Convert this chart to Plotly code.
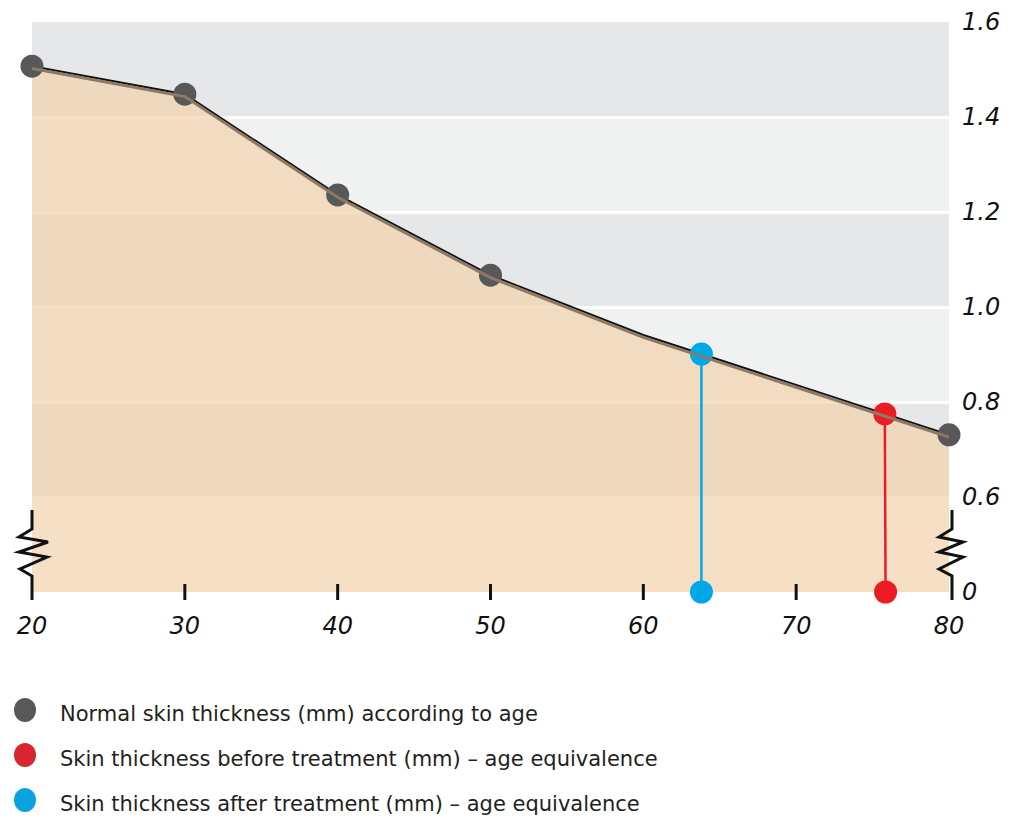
import plotly.graph_objects as go

# ---- data ----
ages = [20, 30, 40, 50, 60, 80]
thickness = [1.507, 1.448, 1.236, 1.067, 0.941, 0.731]
marker_ages = [20, 30, 40, 50, 80]
marker_thickness = [1.507, 1.448, 1.236, 1.067, 0.731]

before_age = [75.8, 75.85]
before_thickness = [0.775, 0.0]
after_age = [63.8, 63.8]
after_thickness = [0.901, 0.0]

x_ticks = [20, 30, 40, 50, 60, 70, 80]
y_tick_values = [0.0, 0.6, 0.8, 1.0, 1.2, 1.4, 1.6]
y_tick_labels = ["0", "0.6", "0.8", "1.0", "1.2", "1.4", "1.6"]

legend_labels = [
    "Normal skin thickness (mm) according to age",
    "Skin thickness before treatment (mm) \u2013 age equivalence",
    "Skin thickness after treatment (mm) \u2013 age equivalence",
]

GRAY = "#58585a"
RED = "#ed1c24"
BLUE = "#00a8e8"
FONT = "DejaVu Sans"

X_RANGE = [20, 80]
Y_RANGE = [0.4, 1.6]

# broken axis: values below 0.6 are compressed so that 0 sits one step below 0.6
def pos(v):
    return v if v >= 0.6 else 0.4 + v * (0.2 / 0.6)

def xpaper(x):
    return (x - X_RANGE[0]) / (X_RANGE[1] - X_RANGE[0])

y_pos = [pos(v) for v in thickness]
fig = go.Figure()

# area fill
fig.add_trace(go.Scatter(x=ages, y=y_pos, mode="lines", line=dict(width=0),
                         fill="tozeroy", fillcolor="rgba(242,209,170,0.68)",
                         hoverinfo="skip", showlegend=False))
# shadow line (drawn on a slightly shifted overlay axis)
fig.add_trace(go.Scatter(x=ages, y=y_pos, mode="lines", yaxis="y2",
                         line=dict(color="#8c7a66", width=3),
                         hoverinfo="skip", showlegend=False))
# main line
fig.add_trace(go.Scatter(x=ages, y=y_pos, mode="lines",
                         line=dict(color="#111111", width=2),
                         showlegend=False))
# vertical age-equivalence lines
fig.add_trace(go.Scatter(x=after_age, y=[pos(v) for v in after_thickness], mode="lines+markers",
                         line=dict(color=BLUE, width=2.5),
                         marker=dict(color=BLUE, size=23), cliponaxis=False,
                         showlegend=False))
fig.add_trace(go.Scatter(x=before_age, y=[pos(v) for v in before_thickness], mode="lines+markers",
                         line=dict(color=RED, width=2.5),
                         marker=dict(color=RED, size=23), cliponaxis=False,
                         showlegend=False))
# normal markers
fig.add_trace(go.Scatter(x=marker_ages, y=[pos(v) for v in marker_thickness], mode="markers",
                         marker=dict(color=GRAY, size=23), cliponaxis=False,
                         showlegend=False))

shapes = []
# background bands
band_edges = [0.4, 0.6, 0.8, 1.0, 1.2, 1.4, 1.6]
band_colors = ["#ffffff", "#e6e7e9", "#f0f1f1", "#e6e7e9", "#f0f1f1", "#e6e7e9"]
for i, c in enumerate(band_colors):
    shapes.append(dict(type="rect", xref="x", yref="y", x0=20, x1=80,
                       y0=band_edges[i], y1=band_edges[i + 1],
                       fillcolor=c, line=dict(width=0), layer="below"))

# x tick marks (paper-referenced so they are not clipped)
for t in x_ticks[1:-1]:
    shapes.append(dict(type="line", xref="paper", yref="paper", xsizemode="pixel", ysizemode="pixel",
                       xanchor=xpaper(t), yanchor=0, x0=0, x1=0, y0=-8, y1=8,
                       line=dict(color="#111111", width=3)))
# broken-axis zigzags at both ends
zig_left = "M0,82 L0,63 L-13,55 L16,50 L-13,40 L15,35 L-12,23 L0,16 L0,-8"
zig_right = "M3,82 L3,63 L-10,55 L14,50 L-10,40 L14,35 L-10,23 L3,16 L3,-8"
for t, p in [(x_ticks[0], zig_left), (x_ticks[-1], zig_right)]:
    shapes.append(dict(type="path", xref="paper", yref="paper", xsizemode="pixel", ysizemode="pixel",
                       xanchor=xpaper(t), yanchor=0, path=p,
                       line=dict(color="#111111", width=3)))

# custom legend
legend_colors = [GRAY, "#d7262e", "#0aa2df"]
annotations = []
W, H = 917.0, 570.0
for i, (lab, col) in enumerate(zip(legend_labels, legend_colors)):
    cy = 710 + 45 * i
    py = (592 - cy) / H
    shapes.append(dict(type="circle", xref="paper", yref="paper", xsizemode="pixel", ysizemode="pixel",
                       xanchor=(25 - 32) / W, yanchor=py, x0=-11, x1=11, y0=-12, y1=12,
                       fillcolor=col, line=dict(width=0)))
    annotations.append(dict(xref="paper", yref="paper", x=(58 - 32) / W, y=(592 - cy - 4) / H,
                            xanchor="left", yanchor="middle", showarrow=False, text=lab,
                            font=dict(family=FONT, size=21, color="#231f20")))

tickfont = dict(family=FONT, size=24, color="#111111", style="italic")
fig.update_layout(
    width=1020, height=821,
    margin=dict(l=32, r=71, t=22, b=229),
    paper_bgcolor="white", plot_bgcolor="rgba(0,0,0,0)",
    showlegend=False,
    shapes=shapes, annotations=annotations,
    xaxis=dict(range=X_RANGE, tickvals=x_ticks, ticktext=[str(t) for t in x_ticks],
               showgrid=False, zeroline=False, showline=False, ticks="", automargin=False,
               tickfont=tickfont, ticklabelstandoff=17),
    yaxis=dict(range=Y_RANGE, side="right", tickvals=[pos(v) for v in y_tick_values],
               ticktext=y_tick_labels, showgrid=True, gridcolor="white", gridwidth=2.5,
               zeroline=False, showline=False, ticks="", tickfont=tickfont, automargin=False,
               ticklabelstandoff=12),
    yaxis2=dict(range=[Y_RANGE[0] + 0.005, Y_RANGE[1] + 0.005], overlaying="y", visible=False),
)

fig.write_html("out.html")
